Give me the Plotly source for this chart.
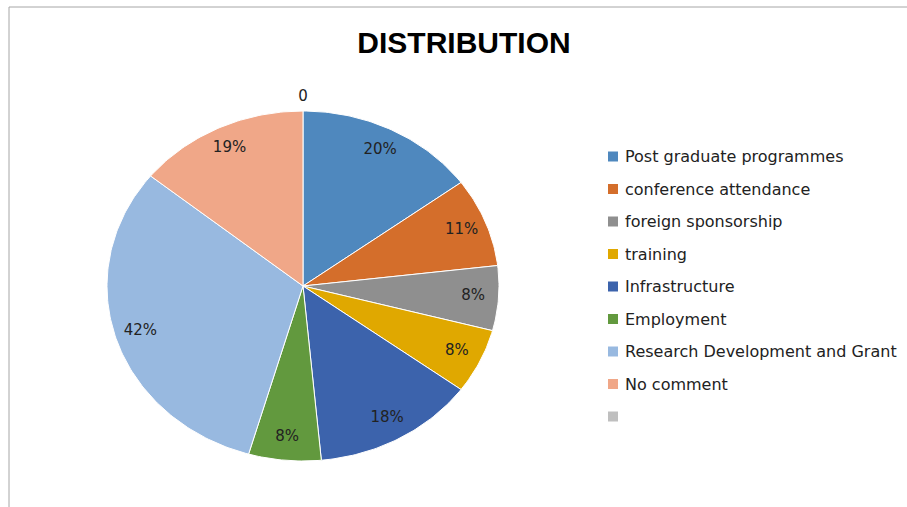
import numpy as np
import plotly.graph_objects as go

# Response categories and their shares (percent)
categories = [
    "Post graduate programmes",
    "conference attendance",
    "foreign sponsorship",
    "training",
    "Infrastructure",
    "Employment",
    "Research Development and Grant",
    "No comment",
    "",
]
shares = [20, 11, 8, 8, 18, 8, 42, 19, 0]
slice_colors = [
    "#4F88BE", "#D46E2B", "#8F8F8F", "#E0A800", "#3C63AC",
    "#62993E", "#98B9E0", "#F0A788", "#BFBFBF",
]

W, H = 907, 507
# pie centre (pixels from top-left) and the pixel size of one unit on each axis
CX, CY = 303, 286
RX, RY = 196, 175

xr = [-CX / RX, (W - CX) / RX]
yr = [-(H - CY) / RY, CY / RY]


def px(x):
    return x / W


def py(y):
    return 1 - y / H


fig = go.Figure()

total = float(np.sum(shares))
cum = np.cumsum([0] + shares[:-1])

# Slices: wedges in axis units, angles measured clockwise from 12 o'clock
for name, v, c, col in zip(categories, shares, cum, slice_colors):
    if v <= 0:
        continue
    a0 = c / total * 2 * np.pi
    a1 = (c + v) / total * 2 * np.pi
    t = np.linspace(a0, a1, max(int(v / total * 400), 8))
    xs = np.concatenate([[0], np.sin(t), [0]])
    ys = np.concatenate([[0], np.cos(t), [0]])
    fig.add_trace(go.Scatter(
        x=xs, y=ys, mode="lines", fill="toself", fillcolor=col,
        line=dict(color="white", width=1), name=name, showlegend=False,
        hoveron="fills", hoverinfo="name",
    ))

# Slice labels along each bisector
lab_x, lab_y, lab_t = [], [], []
for v, c in zip(shares, cum):
    mid = (c + v / 2) / total * 2 * np.pi
    r = 0.87 if v > 0 else 1.08
    lab_x.append(r * np.sin(mid))
    lab_y.append(r * np.cos(mid))
    lab_t.append(f"{v}%" if v > 0 else f"{v}")
fig.add_trace(go.Scatter(
    x=lab_x, y=lab_y, mode="text", text=lab_t, textposition="middle center",
    textfont=dict(family="DejaVu Sans", size=15, color="#222222"),
    showlegend=False, hoverinfo="skip",
))

# Legend: colour key squares and names
shapes = [dict(
    type="rect", xref="paper", yref="paper",
    x0=px(9), x1=px(W + 20), y0=py(H + 20), y1=py(7),
    line=dict(color="#A6A6A6", width=1),
)]
annotations = []
LEG_TOP, LEG_STEP = 156.5, 32.5
for i, (name, col) in enumerate(zip(categories, slice_colors)):
    yc = LEG_TOP + i * LEG_STEP
    shapes.append(dict(
        type="rect", xref="paper", yref="paper",
        x0=px(608), x1=px(618), y0=py(yc + 5), y1=py(yc - 5),
        fillcolor=col, line=dict(width=0),
    ))
    if name:
        annotations.append(dict(
            x=px(623), y=py(yc), xref="paper", yref="paper", text=name,
            showarrow=False, xanchor="left", yanchor="middle",
            font=dict(family="DejaVu Sans", size=16, color="#222222"),
        ))

fig.update_layout(
    width=W, height=H,
    margin=dict(l=0, r=0, t=0, b=0),
    paper_bgcolor="white", plot_bgcolor="white",
    title=dict(
        text="<b>DISTRIBUTION</b>", x=px(464), y=py(42),
        xanchor="center", yanchor="middle",
        font=dict(family="Liberation Sans", size=30, color="black"),
    ),
    xaxis=dict(visible=False, range=xr, domain=[0, 1], fixedrange=True),
    yaxis=dict(visible=False, range=yr, domain=[0, 1], fixedrange=True),
    showlegend=False,
    annotations=annotations,
    shapes=shapes,
)

fig.write_html("out.html")
